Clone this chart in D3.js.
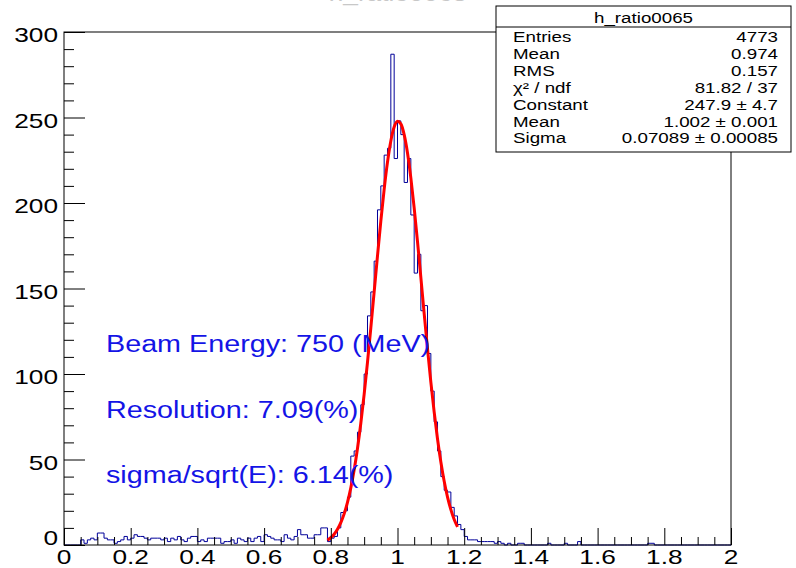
<!DOCTYPE html>
<meta charset="utf-8">
<style>

body { margin: 0; background: #fff; }
svg { display: block; }

text {
  font-family: "Liberation Sans", Arial, Helvetica, sans-serif;
}

.frame {
  fill: none;
  stroke: #000;
  stroke-width: 1px;
}

.ticks line { stroke: #000; stroke-width: 1px; }
.ticks path { display: none; }

.axis-label { font-size: 21px; fill: #000; }

.hist {
  fill: none;
  stroke: #000099;
  stroke-width: 1px;
}

.fit {
  fill: none;
  stroke: #ff0000;
  stroke-width: 3px;
}

.stats rect { fill: #fff; stroke: #000; stroke-width: 1px; }
.stats line { stroke: #000; stroke-width: 1px; }
.stats text { font-size: 15px; fill: #000; }

.note { font-size: 23px; fill: #1414e6; }

.title { font-size: 21px; fill: #c8c8c8; }

</style>
<svg width="796" height="568"></svg>
<script src="https://d3js.org/d3.v7.min.js"></script>
<script>

// histogram h_ratio0065: 200 bins of 0.01 from 0 to 2
var binLow = 0, binWidth = 0.01;
var counts = [
  0, 0, 0, 0, 0, 3, 1, 3, 4, 3,
  7, 7, 4, 3, 3, 1, 2, 3, 5, 3,
  4, 6, 5, 5, 4, 3, 4, 4, 4, 3,
  4, 2, 4, 3, 5, 3, 2, 4, 5, 5,
  2, 3, 2, 4, 4, 4, 4, 1, 2, 2,
  3, 1, 4, 3, 2, 4, 2, 4, 5, 2,
  6, 5, 4, 3, 3, 2, 6, 4, 3, 5,
  9, 6, 6, 4, 4, 6, 6, 10, 10, 2,
  4, 5, 10, 19, 20, 28, 52, 55, 66, 82,
  100, 134, 148, 166, 196, 210, 228, 232, 287, 226,
  248, 240, 212, 226, 193, 159, 170, 137, 140, 112,
  90, 72, 55, 40, 32, 31, 22, 17, 12, 9,
  5, 3, 3, 3, 2, 2, 2, 2, 2, 1,
  2, 1, 0, 1, 0, 0, 1, 1, 0, 0,
  0, 0, 0, 0, 0, 1, 0, 0, 0, 0,
  1, 0, 0, 0, 2, 0, 0, 0, 0, 0,
  0, 0, 0, 0, 0, 0, 0, 0, 0, 0,
  0, 0, 0, 0, 0, 1, 1, 0, 0, 0,
  0, 0, 0, 0, 0, 0, 0, 0, 0, 0,
  0, 0, 0, 0, 0, 0, 0, 0, 0, 0
];

// gaussian fit curve, read every 0.01 from 0.79 to 1.18
var fitStart = 0.79, fitStep = 0.01;
var fitY = [
  2.8, 4.3, 6.3, 9.2, 13.1, 18.2, 24.9, 33.4, 43.8, 56.4,
  71.2, 88.1, 106.8, 127.0, 148.0, 169.1, 189.4, 208.0, 223.9, 236.3,
  244.4, 247.8, 246.3, 240.0, 229.3, 214.7, 197.1, 177.4, 156.5, 135.3,
  114.7, 95.3, 77.7, 62.0, 48.6, 37.3, 28.0, 20.7, 14.9, 10.6
];

var xTicks = [0, 0.2, 0.4, 0.6, 0.8, 1, 1.2, 1.4, 1.6, 1.8, 2];
var xTickLabels = ["0", "0.2", "0.4", "0.6", "0.8", "1", "1.2", "1.4", "1.6", "1.8", "2"];
var xMinorTicks = [0.05, 0.1, 0.15, 0.25, 0.3, 0.35, 0.45, 0.5, 0.55, 0.65, 0.7, 0.75,
                   0.85, 0.9, 0.95, 1.05, 1.1, 1.15, 1.25, 1.3, 1.35, 1.45, 1.5, 1.55,
                   1.65, 1.7, 1.75, 1.85, 1.9, 1.95];
var yTicks = [0, 50, 100, 150, 200, 250, 300];
var yTickLabels = ["0", "50", "100", "150", "200", "250", "300"];
var yMinorTicks = [10, 20, 30, 40, 60, 70, 80, 90, 110, 120, 130, 140, 160, 170, 180, 190,
                   210, 220, 230, 240, 260, 270, 280, 290];

var title = "h_ratio0065";
var statLabels = ["Entries", "Mean", "RMS", "\u03c7\u00b2 / ndf", "Constant", "Mean", "Sigma"];
var statValues = ["4773", "0.974", "0.157", "81.82 / 37", "247.9 \u00b1 4.7",
                  "1.002 \u00b1 0.001", "0.07089 \u00b1 0.00085"];
var notes = ["Beam Energy: 750 (MeV)", "Resolution: 7.09(%)", "sigma/sqrt(E): 6.14(%)"];

// ROOT canvas text comes out wider than the font, so stretch it sideways
var stretch = 1.25;
function place(px, py) { return "translate(" + px + "," + py + ") scale(" + stretch + ",1)"; }

var svg = d3.select("svg"),
    margin = {top: 32, right: 65, bottom: 23, left: 64},
    width = +svg.attr("width") - margin.left - margin.right,
    height = +svg.attr("height") - margin.top - margin.bottom;

var x = d3.scaleLinear()
    .domain([0, 2])
    .range([margin.left, margin.left + width]);

var y = d3.scaleLinear()
    .domain([0, 300])
    .range([margin.top + height, margin.top]);

// faint title, mostly off the top of the canvas
svg.append("text")
    .attr("class", "title")
    .attr("text-anchor", "middle")
    .attr("transform", place(398, 1))
    .text(title);

// histogram outline
var pts = [[binLow, 0]];
counts.forEach(function(c, i) { pts.push([binLow + i * binWidth, c]); });
pts.push([binLow + counts.length * binWidth, counts[counts.length - 1]]);
pts.push([binLow + counts.length * binWidth, 0]);

svg.append("path")
    .attr("class", "hist")
    .attr("d", d3.line()
        .x(function(d) { return x(d[0]); })
        .y(function(d) { return y(d[1]); })
        .curve(d3.curveStepAfter)(pts));

// fit
svg.append("path")
    .attr("class", "fit")
    .attr("d", d3.line()
        .x(function(d, i) { return x(fitStart + i * fitStep); })
        .y(function(d) { return y(d); })
        .curve(d3.curveMonotoneX)(fitY));

// frame and ticks
svg.append("rect")
    .attr("class", "frame")
    .attr("x", x(0))
    .attr("y", y(300))
    .attr("width", x(2) - x(0))
    .attr("height", y(0) - y(300));

svg.append("g")
    .attr("class", "ticks")
    .attr("transform", "translate(" + x(0) + ",0)")
    .call(d3.axisRight(y).tickValues(yTicks).tickSize(21).tickFormat(""));

svg.append("g")
    .attr("class", "ticks")
    .attr("transform", "translate(" + x(0) + ",0)")
    .call(d3.axisRight(y).tickValues(yMinorTicks).tickSize(10).tickFormat(""));

svg.append("g")
    .attr("class", "ticks")
    .attr("transform", "translate(0," + y(0) + ")")
    .call(d3.axisTop(x).tickValues(xTicks).tickSize(17).tickFormat(""));

svg.append("g")
    .attr("class", "ticks")
    .attr("transform", "translate(0," + y(0) + ")")
    .call(d3.axisTop(x).tickValues(xMinorTicks).tickSize(8).tickFormat(""));

svg.append("g")
    .selectAll("text")
    .data(yTicks)
    .enter().append("text")
      .attr("class", "axis-label")
      .attr("text-anchor", "end")
      .attr("transform", function(d) { return place(x(0) - 6, d === 0 ? y(0) : y(d) + 10); })
      .text(function(d, i) { return yTickLabels[i]; });

svg.append("g")
    .selectAll("text")
    .data(xTicks)
    .enter().append("text")
      .attr("class", "axis-label")
      .attr("text-anchor", "middle")
      .attr("transform", function(d) { return place(x(d), 564); })
      .text(function(d, i) { return xTickLabels[i]; });

// notes
svg.append("g")
    .selectAll("text")
    .data(notes)
    .enter().append("text")
      .attr("class", "note")
      .attr("transform", function(d, i) { return place(106, 352 + i * 65.5); })
      .text(function(d) { return d; });

// stats box
var stats = svg.append("g").attr("class", "stats");
var box = {x0: 496, x1: 791, y0: 6, y1: 152, head: 27};

stats.append("rect")
    .attr("x", box.x0)
    .attr("y", box.y0)
    .attr("width", box.x1 - box.x0)
    .attr("height", box.y1 - box.y0);

stats.append("line")
    .attr("x1", box.x0).attr("x2", box.x1)
    .attr("y1", box.head).attr("y2", box.head);

stats.append("text")
    .attr("text-anchor", "middle")
    .attr("transform", place((box.x0 + box.x1) / 2, 23))
    .text(title);

stats.selectAll("text.lbl")
    .data(statLabels)
    .enter().append("text")
      .attr("class", "lbl")
      .attr("transform", function(d, i) { return place(513, 42 + i * 16.9); })
      .text(function(d) { return d; });

stats.selectAll("text.val")
    .data(statValues)
    .enter().append("text")
      .attr("class", "val")
      .attr("text-anchor", "end")
      .attr("transform", function(d, i) { return place(778, 42 + i * 16.9); })
      .text(function(d) { return d; });

</script>
